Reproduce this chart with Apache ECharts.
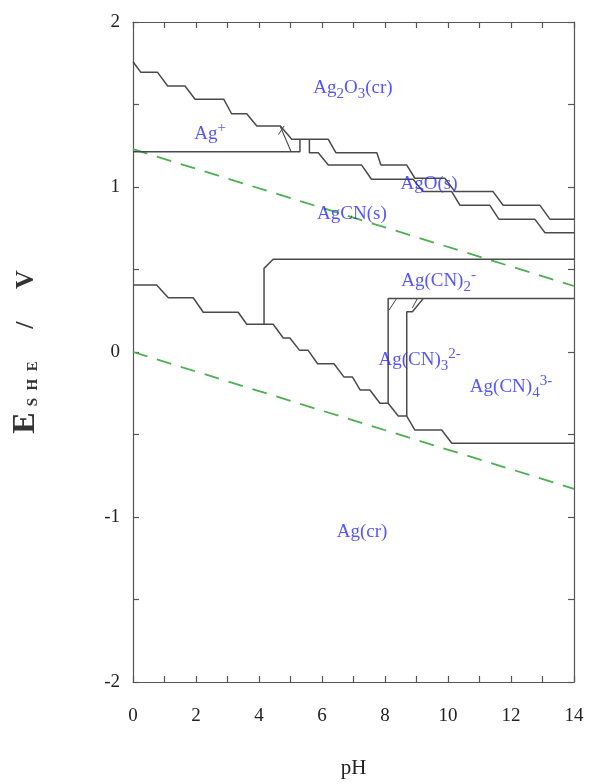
<!DOCTYPE html>
<html>
<head>
<meta charset="utf-8">
<script src="https://cdn.jsdelivr.net/npm/echarts@6/dist/echarts.min.js"></script>
<style>
html,body{margin:0;padding:0;background:#fff;}
#chart{width:594px;height:784px;}
</style>
</head>
<body>
<div id="chart"></div>
<script>
// ---- Data (pH, E/V) ----
const xTicks = [0, 2, 4, 6, 8, 10, 12, 14];
const yTicks = [-2, -1, 0, 1, 2];

// Ag+ / Ag2O3 then AgO / Ag2O3 boundary
const lineUpper = [[0,1.759],[0.25,1.695],[0.78,1.695],[1.10,1.612],[1.65,1.612],[1.97,1.532],[2.88,1.532],[3.13,1.444],[3.61,1.444],[3.93,1.370],[4.68,1.370],[5.04,1.289],[6.20,1.289],[6.44,1.208],[7.74,1.208],[7.87,1.133],[8.69,1.133],[8.95,1.053],[9.90,1.053],[10.22,0.972],[11.43,0.972],[11.75,0.889],[12.92,0.889],[13.24,0.804],[14,0.804]];
// AgCN / AgO boundary
const lineAgO = [[5.60,1.289],[5.60,1.208],[5.88,1.208],[6.20,1.133],[7.26,1.133],[7.57,1.047],[8.89,1.047],[9.21,0.972],[10.12,0.972],[10.38,0.889],[11.33,0.889],[11.62,0.804],[12.76,0.804],[13.08,0.723],[14,0.723]];
// Ag+ / AgCN boundary
const lineAgPlusAgCN = [[0,1.214],[5.30,1.214],[5.30,1.289]];
// Ag+ / AgO short diagonal
const lineAgPlusDiag = [[4.67,1.370],[5.02,1.214]];
const lineAgPlusTick = [[4.80,1.370],[4.62,1.318]];
// AgCN / Ag(CN)2- boundary
const lineAgCNBox = [[4.16,0.168],[4.16,0.507],[4.45,0.562],[14,0.562]];
// Ag(cr) lower boundary
const lineAgMetal = [[0,0.406],[0.75,0.406],[1.12,0.329],[1.91,0.329],[2.23,0.241],[3.34,0.241],[3.61,0.168],[4.45,0.168],[4.77,0.085],[4.98,0.085],[5.29,0.010],[5.56,0.010],[5.86,-0.071],[6.38,-0.071],[6.70,-0.152],[6.97,-0.152],[7.21,-0.230],[7.52,-0.230],[7.84,-0.311],[8.10,-0.311],[8.42,-0.388],[8.69,-0.388],[8.95,-0.473],[9.80,-0.473],[10.12,-0.553],[14,-0.553]];
// Ag(CN)2- / Ag(CN)3 2- boundary
const lineCN3 = [[8.10,-0.311],[8.10,0.325],[14,0.325]];
const lineCN3Tick = [[8.37,0.325],[8.13,0.254]];
// Ag(CN)3 2- / Ag(CN)4 3- boundary
const lineCN4 = [[8.69,-0.388],[8.69,0.244],[8.87,0.244],[9.22,0.325]];
const lineCN4Tick = [[9.03,0.325],[8.87,0.267]];
// water stability lines
const waterUpper = [[0,1.229],[14,0.400]];
const waterLower = [[0,0.0],[14,-0.829]];

// region labels: [pH, E, text]
const regionLabels = [
  [6.98, 1.60, '{m|Ag}{sub|2}{m|O}{sub|3}{m|(cr)}'],
  [2.45, 1.32, '{m|Ag}{sup|+}'],
  [9.40, 1.02, '{m|AgO(s)}'],
  [6.95, 0.836, '{m|AgCN(s)}'],
  [9.70, 0.43, '{m|Ag(CN)}{sub|2}{sup|-}'],
  [9.10, -0.05, '{m|Ag(CN)}{sub|3}{sup|2-}'],
  [12.0, -0.21, '{m|Ag(CN)}{sub|4}{sup|3-}'],
  [7.27, -1.09, '{m|Ag(cr)}']
];

const serif = '"Liberation Serif", "Times New Roman", serif';
const lineColor = '#4a4a4a';
const blue = '#2a2aff';

function boundary(data, w) {
  return {type:'line', data:data, symbol:'none', silent:true, animation:false,
    lineStyle:{color:lineColor, width:w||1.5}, z:3};
}
function water(data) {
  return {type:'line', data:data, symbol:'none', silent:true, animation:false,
    lineStyle:{color:'#4cb050', width:1.8, type:[15,10]}, z:2};
}

const chart = echarts.init(document.getElementById('chart'), null, {renderer:'canvas'});

const axisCommonX = {
  type:'value', min:0, max:14, interval:1,
  splitLine:{show:false},
  axisLine:{show:true, onZero:false, lineStyle:{color:'#555', width:1.2}},
  axisTick:{show:true, inside:true, length:6, lineStyle:{color:'#555', width:1.2}}
};
const axisCommonY = {
  type:'value', min:-2, max:2, interval:0.5,
  splitLine:{show:false},
  axisLine:{show:true, onZero:false, lineStyle:{color:'#555', width:1.2}},
  axisTick:{show:true, inside:true, length:6, lineStyle:{color:'#555', width:1.2}}
};

const option = {
  backgroundColor:'#fff',
  animation:false,
  grid:{left:133, right:20, top:22, bottom:102, containLabel:false},
  xAxis:[
    Object.assign({}, axisCommonX, {
      position:'bottom',
      axisLabel:{show:true, margin:25, color:'#222', fontFamily:serif, fontSize:19,
        formatter:function(v){ return xTicks.indexOf(v) >= 0 ? String(v) : ''; }},
      name:'pH', nameLocation:'middle', nameGap:76,
      nameTextStyle:{color:'#222', fontFamily:serif, fontSize:21}
    }),
    Object.assign({}, axisCommonX, {position:'top', axisLabel:{show:false}})
  ],
  yAxis:[
    Object.assign({}, axisCommonY, {
      position:'left',
      axisLabel:{show:true, margin:13, color:'#222', fontFamily:serif, fontSize:19,
        formatter:function(v){ return yTicks.indexOf(v) >= 0 ? String(v) : ''; }},
      name:'{e|E}{s|S  H  E}{v|     /     V}', nameLocation:'middle', nameGap:92, nameRotate:90,
      nameTextStyle:{
        color:'#333', fontFamily:serif, fontWeight:'bold',
        rich:{
          e:{fontSize:32, fontFamily:serif, fontWeight:'bold', color:'#333', lineHeight:30, verticalAlign:'middle'},
          s:{fontSize:15, fontFamily:serif, fontWeight:'bold', color:'#333', lineHeight:14, verticalAlign:'bottom', padding:[0,0,0,6]},
          v:{fontSize:26, fontFamily:serif, fontWeight:'bold', color:'#333', lineHeight:30, verticalAlign:'middle'}
        }
      }
    }),
    Object.assign({}, axisCommonY, {position:'right', axisLabel:{show:false}})
  ],
  series:[
    water(waterUpper),
    water(waterLower),
    boundary(lineUpper),
    boundary(lineAgO),
    boundary(lineAgPlusAgCN),
    boundary(lineAgPlusDiag, 1.1),
    boundary(lineAgPlusTick, 1.0),
    boundary(lineAgCNBox),
    boundary(lineAgMetal),
    boundary(lineCN3),
    boundary(lineCN3Tick, 1.0),
    boundary(lineCN4),
    boundary(lineCN4Tick, 1.0),
    {
      type:'scatter', symbolSize:0, silent:true, animation:false, z:5,
      data: regionLabels.map(function(r){ return {value:[r[0], r[1]], text:r[2]}; }),
      label:{
        show:true, position:'inside',
        formatter:function(p){ return p.data.text; },
        rich:{
          m:{fontFamily:serif, fontSize:19, color:blue, lineHeight:27, verticalAlign:'middle'},
          sub:{fontFamily:serif, fontSize:15, color:blue, lineHeight:15, verticalAlign:'bottom'},
          sup:{fontFamily:serif, fontSize:15, color:blue, lineHeight:15, verticalAlign:'top'}
        }
      }
    }
  ]
};
chart.setOption(option);
</script>
</body>
</html>
